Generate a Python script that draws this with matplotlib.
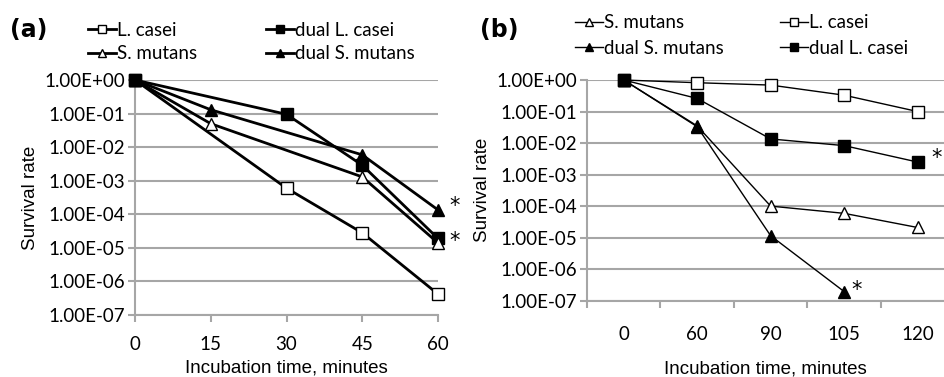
import numpy as np
import matplotlib
matplotlib.use("Agg")
import matplotlib.pyplot as plt

plt.rcParams['font.family'] = ['Lato', 'DejaVu Sans']

# ---- Panel (a) data ----
a_x = [0, 15, 30, 45, 60]
a_lcasei = [1.0, np.nan, 6.0e-4, 2.8e-5, 4.2e-7]
a_smutans = [1.0, 5.0e-2, np.nan, 1.3e-3, 1.4e-5]
a_dual_lcasei = [1.0, np.nan, 9.5e-2, 2.9e-3, 1.9e-5]
a_dual_smutans = [1.0, 1.3e-1, np.nan, 5.9e-3, 1.35e-4]

# ---- Panel (b) data ----
b_cats = ['0', '60', '90', '105', '120']
b_smutans = [1.0, 3.5e-2, 1.0e-4, 5.9e-5, 2.1e-5]
b_lcasei = [1.0, 0.82, 0.69, 0.33, 0.10]
b_dual_smutans = [1.0, 3.3e-2, 1.15e-5, 1.95e-7, np.nan]
b_dual_lcasei = [1.0, 0.26, 1.35e-2, 8.3e-3, 2.5e-3]

y_ticks = [1e0, 1e-1, 1e-2, 1e-3, 1e-4, 1e-5, 1e-6, 1e-7]
y_labels = ['1.00E+00', '1.00E-01', '1.00E-02', '1.00E-03', '1.00E-04',
            '1.00E-05', '1.00E-06', '1.00E-07']

W, H = 944, 377
fig = plt.figure(figsize=(W / 100, H / 100), dpi=100)

grid_c = '#a6a6a6'
fs = 13.5
lab_font = ['Liberation Sans', 'DejaVu Sans']


def series(ax, x, y, marker, filled, lw, ms, label):
    x = np.asarray(x, dtype=float)
    y = np.asarray(y, dtype=float)
    m = ~np.isnan(y)
    ax.plot(x[m], y[m], color='black', lw=lw, marker=marker, ms=ms,
            mfc='black' if filled else 'white', mec='black', mew=1.0,
            label=label, clip_on=False, zorder=3)


def style(ax):
    ax.set_yscale('log')
    ax.set_ylim(1e-7, 1e0)
    ax.set_yticks(y_ticks)
    ax.set_yticklabels(y_labels, fontsize=fs)
    ax.yaxis.set_minor_locator(matplotlib.ticker.NullLocator())
    ax.grid(axis='y', color=grid_c, lw=1.5)
    ax.set_axisbelow(True)
    for s in ['top', 'right']:
        ax.spines[s].set_visible(False)
    for s in ['left', 'bottom']:
        ax.spines[s].set_color(grid_c)
        ax.spines[s].set_linewidth(1.5)
    ax.tick_params(axis='y', length=5, color=grid_c, width=1.5, pad=2)
    ax.set_ylabel('Survival rate', fontsize=fs, labelpad=4, family=lab_font)


def star(ax, xy, off):
    ax.annotate('*', xy, xytext=off, textcoords='offset points',
                fontsize=15, ha='center', va='center', annotation_clip=False,
                family='DejaVu Sans')


# Panel (a)
axa = fig.add_axes([135 / W, 1 - 315 / H, (438 - 135) / W, (315 - 80) / H])
style(axa)
series(axa, a_x, a_lcasei, 's', False, 2.0, 8, 'L. casei')
series(axa, a_x, a_dual_lcasei, 's', True, 2.0, 8, 'dual L. casei')
series(axa, a_x, a_smutans, '^', False, 2.0, 8, 'S. mutans')
series(axa, a_x, a_dual_smutans, '^', True, 2.0, 8, 'dual S. mutans')
axa.set_xlim(0, 60)
axa.set_xticks(a_x)
axa.set_xticklabels([str(v) for v in a_x], fontsize=fs)
axa.tick_params(axis='x', length=5, color=grid_c, width=1.5, pad=10)
axa.set_xlabel('Incubation time, minutes', fontsize=fs, labelpad=5, family=lab_font)
star(axa, (60, a_dual_smutans[4]), (12, 3))
star(axa, (60, a_dual_lcasei[4]), (12, -2))
ha, la = axa.get_legend_handles_labels()
order = [0, 2, 1, 3]
fig.legend([ha[i] for i in order], [la[i] for i in order], ncol=2,
           loc='upper left', bbox_to_anchor=(80 / W, 1 - 14 / H),
           frameon=False, fontsize=fs, handlelength=1.5, handletextpad=0.05,
           columnspacing=3.7, labelspacing=0.35, borderaxespad=0, markerscale=0.65)
fig.text(10 / W, 1 - 30 / H, '(a)', fontsize=17, fontweight='bold', va='center',
         family='DejaVu Sans')

# Panel (b)
axb = fig.add_axes([587 / W, 1 - 300.7 / H, (944 - 587) / W, (300.7 - 80) / H])
style(axb)
bx = np.arange(len(b_cats))
series(axb, bx, b_smutans, '^', False, 1.0, 8, 'S. mutans')
series(axb, bx, b_lcasei, 's', False, 1.0, 8, 'L. casei')
series(axb, bx, b_dual_smutans, '^', True, 1.0, 8, 'dual S. mutans')
series(axb, bx, b_dual_lcasei, 's', True, 1.0, 8, 'dual L. casei')
axb.set_xlim(-0.5, 4.36)
axb.set_xticks(bx)
axb.set_xticklabels(b_cats, fontsize=fs)
axb.set_xticks(np.arange(-0.5, 4.5, 1.0), minor=True)
axb.tick_params(axis='x', which='major', length=0, pad=18)
axb.tick_params(axis='x', which='minor', length=5, color=grid_c, width=1.5)
axb.set_xlabel('Incubation time, minutes', fontsize=fs, labelpad=13, family=lab_font)
star(axb, (4, b_dual_lcasei[4]), (14, 3))
star(axb, (3, b_dual_smutans[3]), (9, 1))
hb, lb = axb.get_legend_handles_labels()
order = [0, 2, 1, 3]
fig.legend([hb[i] for i in order], [lb[i] for i in order], ncol=2,
           loc='upper left', bbox_to_anchor=(567 / W, 1 - 7 / H),
           frameon=False, fontsize=fs, handlelength=1.5, handletextpad=0.05,
           columnspacing=3.0, labelspacing=0.45, borderaxespad=0, markerscale=0.65)
fig.text(480 / W, 1 - 30 / H, '(b)', fontsize=17, fontweight='bold', va='center',
         family='DejaVu Sans')

fig.savefig('out.png', dpi=100)
